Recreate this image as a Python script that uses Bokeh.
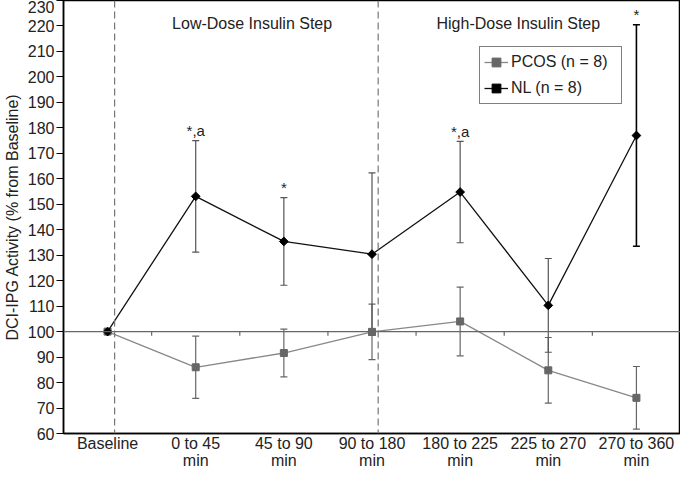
import math
from bokeh.plotting import figure
from bokeh.models import Range1d, FixedTicker, Span, ColumnDataSource, Legend, LegendItem
from bokeh.embed import file_html
from bokeh.resources import INLINE
from bokeh.core.properties import value

FONT = "Liberation Sans"

categories = ["Baseline", "0 to 45\nmin", "45 to 90\nmin", "90 to 180\nmin",
              "180 to 225\nmin", "225 to 270\nmin", "270 to 360\nmin"]
nl_mean = [100, 153.1, 135.4, 130.4, 154.8, 110.3, 177.0]
nl_err = [0, 21.9, 17.2, 31.9, 19.9, 18.4, 43.5]
pcos_mean = [100, 86.0, 91.6, 99.9, 104.0, 84.8, 74.0]
pcos_err = [0, 12.2, 9.4, 10.9, 13.5, 12.9, 12.3]
annotations = ["", "*,a", "*", "", "*,a", "", "*"]
y_ticks = list(range(60, 231, 10))
step_labels = ["Low-Dose Insulin Step", "High-Dose Insulin Step"]
step_label_x = [1.64, 4.66]
step_bounds = [0.08, 3.07]

xs = list(range(len(categories)))

p = figure(width=680, height=471, output_backend="svg", toolbar_location=None,
           x_range=Range1d(-0.5, 6.5), y_range=Range1d(60, 230),
           min_border_left=56, min_border_right=0, min_border_top=0, min_border_bottom=36)
p.grid.visible = False
p.outline_line_color = "black"
p.outline_line_width = 1.5
p.background_fill_color = "white"
p.border_fill_color = "white"

# axes
p.xaxis.ticker = FixedTicker(ticks=xs)
p.xaxis.major_label_overrides = {i: c for i, c in enumerate(categories)}
p.xaxis.major_tick_out = 0
p.xaxis.major_tick_in = 0
p.xaxis.minor_tick_out = 0
p.xaxis.minor_tick_in = 0
p.xaxis.major_label_standoff = 1
p.xaxis.major_label_text_font = FONT
p.xaxis.major_label_text_font_size = "16px"
p.xaxis.major_label_text_line_height = 1.0
p.xaxis.major_label_text_color = "#222"
p.xaxis.axis_line_width = 1.5
p.xaxis.axis_line_color = "black"

p.yaxis.ticker = FixedTicker(ticks=y_ticks)
p.yaxis.major_tick_out = 7
p.yaxis.major_tick_in = 0
p.yaxis.minor_tick_out = 0
p.yaxis.minor_tick_in = 0
p.yaxis.major_label_standoff = 2
p.yaxis.major_label_text_font = FONT
p.yaxis.major_label_text_font_size = "16px"
p.yaxis.major_label_text_color = "#222"
p.yaxis.axis_line_width = 1.5
p.yaxis.axis_line_color = "black"
p.yaxis.axis_label = "DCI-IPG Activity (% from Baseline)"
p.yaxis.axis_label_text_font = FONT
p.yaxis.axis_label_text_font_size = "16px"
p.yaxis.axis_label_text_font_style = "normal"
p.yaxis.axis_label_text_color = "#222"
p.yaxis.axis_label_standoff = 4

# reference line at 100 and step separators
p.add_layout(Span(location=100, dimension="width", line_color="#666", line_width=1.2))
for b in step_bounds:
    p.add_layout(Span(location=b, dimension="height", line_color="#777",
                      line_width=1.2, line_dash="7 4"))
half = [x + 0.5 for x in xs[:-1]]
p.segment(x0=half, y0=[100] * len(half), x1=half, y1=[98.4] * len(half),
          line_color="#666", line_width=1.2)

# error bars
def bars(mean, err, color, width):
    idx = [i for i in xs if err[i] > 0]
    src = ColumnDataSource(dict(
        x=[xs[i] for i in idx],
        lo=[mean[i] - err[i] for i in idx],
        hi=[mean[i] + err[i] for i in idx],
        c=[color(i) for i in idx],
        w=[width(i) for i in idx],
    ))
    p.segment(x0="x", y0="lo", x1="x", y1="hi", line_color="c", line_width="w", source=src)
    p.scatter(x="x", y="lo", marker="dash", size=7, line_color="c", line_width="w", source=src)
    p.scatter(x="x", y="hi", marker="dash", size=7, line_color="c", line_width="w", source=src)

last = len(xs) - 1
bars(pcos_mean, pcos_err, lambda i: "#666", lambda i: 1.2)
bars(nl_mean, nl_err, lambda i: "#000" if i == last else "#555",
     lambda i: 1.6 if i == last else 1.2)

# series
pl = p.line(xs, pcos_mean, line_color="#888", line_width=1.3)
pm = p.scatter(xs, pcos_mean, marker="square", size=7, fill_color="#666", line_color="#666")
nl = p.line(xs, nl_mean, line_color="#111", line_width=1.3)
nm = p.scatter(xs, nl_mean, marker="square", size=6.2, angle=math.pi / 4,
               fill_color="black", line_color="black")

# significance annotations
ann_idx = [i for i in xs if annotations[i]]
p.text(x=[xs[i] for i in ann_idx],
       y=[nl_mean[i] + nl_err[i] + 4.0 for i in ann_idx],
       text=[annotations[i] for i in ann_idx],
       text_align="center", text_baseline="alphabetic",
       text_font=value(FONT), text_font_size="15px", text_color="#222")

# step labels
p.text(x=step_label_x, y=[220.8, 220.8], text=step_labels,
       text_align="center", text_baseline="alphabetic",
       text_font=value(FONT), text_font_size="16px", text_color="#222")

legend = Legend(items=[LegendItem(label="PCOS (n = 8)", renderers=[pl, pm]),
                       LegendItem(label="NL (n = 8)", renderers=[nl, nm])],
                location=(416, 329))
legend.border_line_color = "black"
legend.border_line_width = 1.5
legend.background_fill_alpha = 1
legend.label_text_font = FONT
legend.label_text_font_size = "16px"
legend.label_text_color = "#222"
legend.glyph_width = 24
legend.glyph_height = 22
legend.label_height = 22
legend.label_width = 106
legend.label_standoff = 3
legend.spacing = 4
legend.padding = 4
legend.margin = 0
p.add_layout(legend)

open("out.html", "w").write(file_html(p, INLINE))
